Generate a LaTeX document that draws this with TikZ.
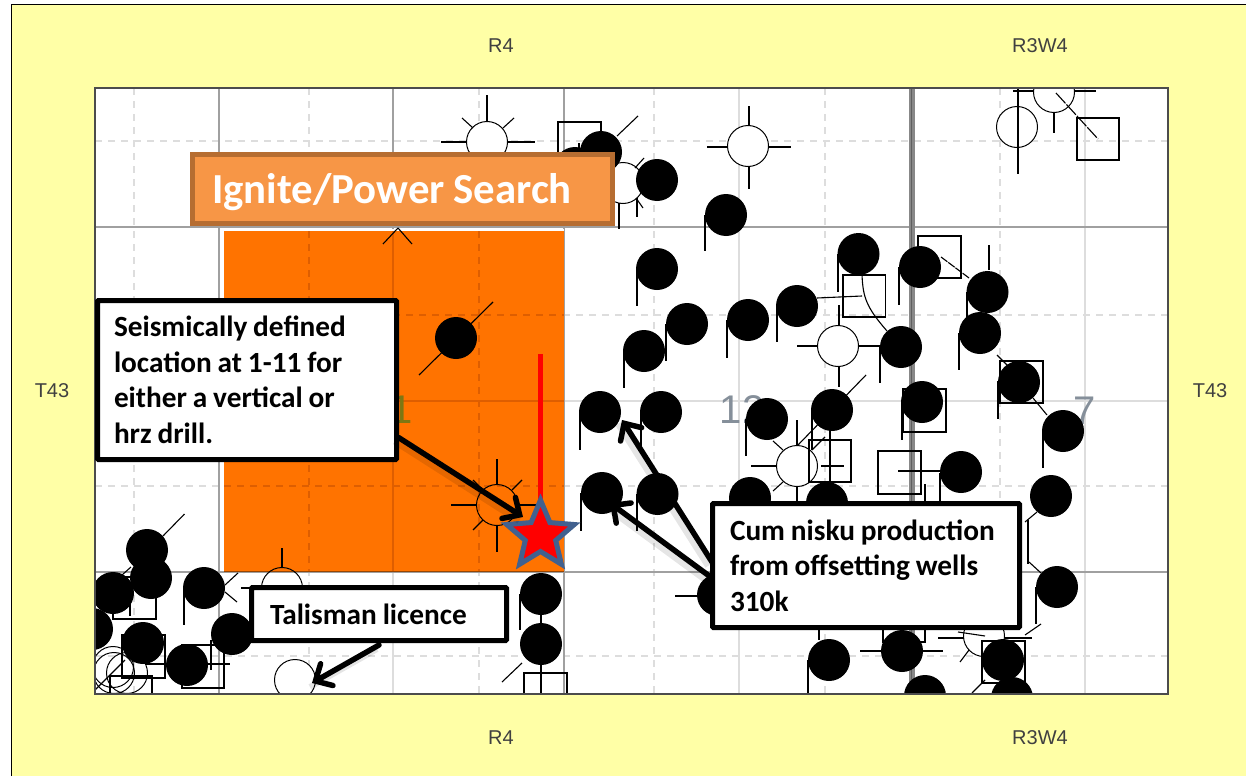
\documentclass[tikz,border=0pt]{standalone}
\usepackage{fontspec}
\setmainfont{Carlito}
\newfontfamily\maplabel{Liberation Sans}
\usetikzlibrary{arrows.meta,calc}
\definecolor{paper}{HTML}{FFFFA6}
\definecolor{lease}{HTML}{FF7300}
\definecolor{leasegrid}{HTML}{DE5E00}
\definecolor{gridA}{HTML}{A0A0A0}
\definecolor{gridB}{HTML}{DDDDDD}
\definecolor{bannerfill}{HTML}{F79646}
\definecolor{bannerline}{HTML}{B66D31}
\definecolor{stargrey}{HTML}{41618F}
\definecolor{twpnum}{HTML}{858F9A}
\newcommand{\tsp}{\spaceskip=.2em\relax}
\tikzset{
  x=1pt,y=-1pt,
  grida/.style={draw=gridA,line width=1.4pt},
  gridb/.style={draw=gridB,line width=1.4pt},
  griddash/.style={draw=gridB,line width=1.4pt,dash pattern=on 7pt off 6pt},
  sym/.style={draw=black,line width=1.1pt},
  opencirc/.style={draw=black,line width=1pt,fill=white},
  wellsq/.style={draw=black,line width=1.2pt},
  maptext/.style={font=\maplabel\fontsize{20}{22}\selectfont,text=black!75,inner sep=0pt},
  twpn/.style={font=\maplabel\fontsize{40}{40}\selectfont,inner sep=0pt},
  callbox/.style={draw=black,line width=5pt,fill=white,rounded corners=1pt,outer sep=0pt,anchor=north west,align=left,inner ysep=0pt,font=\bfseries\fontsize{29.3}{35.5}\selectfont},
  callout/.style={draw=black,line width=5.5pt,line cap=round,-{Straight Barb[length=13pt,width=25pt,line cap=round]}},
  calloutshade/.style={draw=black,opacity=.1,line width=6pt}
}
\newcommand{\W}[2]{\fill[black] (#1,#2) circle[radius=21];}
\newcommand{\Tl}[3]{\draw[sym] (#1,#2) -- (#1,#3);}
\newcommand{\Ln}[4]{\draw[sym] (#1,#2) -- (#3,#4);}
\newcommand{\Sq}[4]{\draw[wellsq] (#1,#2) rectangle (#3,#4);}
\newcommand{\Oc}[2]{\draw[opencirc] (#1,#2) circle[radius=20.5];}
\begin{document}
\begin{tikzpicture}
\useasboundingbox (0,0) rectangle (1246,776);
\fill[white] (0,0) rectangle (1246,776);
\fill[paper] (11,4) rectangle (1246,776);
\draw[black,line width=1.4pt] (11.5,776) -- (11.5,4.5) -- (1246,4.5);
\fill[white] (95,88) rectangle (1168,694);
\begin{scope}
\clip (95,88) rectangle (1168,694);
% grid
\foreach \x in {134,309,479,654,825,1000}{\draw[griddash] (\x,88) -- (\x,694);}
\foreach \y in {141,315,486,656}{\draw[griddash] (95,\y) -- (1168,\y);}
\draw[gridb] (739,88) -- (739,694);
\draw[gridb] (1085,88) -- (1085,694);
\draw[gridb] (393,572) -- (393,694);
\draw[gridb] (564,401) -- (1168,401);
\draw[grida] (393,88) -- (393,230);
\draw[grida] (219,88) -- (219,694);
\draw[grida] (564,88) -- (564,694);
\draw[grida] (95,227) -- (1168,227);
\draw[grida] (95,572) -- (1168,572);
\draw[draw=gridA!85!black,line width=6pt] (912,88) -- (912,694);
\draw[draw=gridA!60!black,line width=1pt] (911,88) -- (911,694);
% lease block
\fill[white] (219.8,229) rectangle (564,232);
\fill[lease] (223.5,231) rectangle (564,571.5);
\draw[leasegrid,line width=1.2pt] (393,231) -- (393,571);
\draw[leasegrid,line width=1.2pt,dash pattern=on 7pt off 6pt] (309,231) -- (309,571);
\draw[leasegrid,line width=1.2pt,dash pattern=on 7pt off 6pt] (479,231) -- (479,571);
\draw[leasegrid,line width=1.2pt,dash pattern=on 7pt off 6pt] (224,315) -- (564,315);
\draw[leasegrid,line width=1.2pt,dash pattern=on 7pt off 6pt] (224,486) -- (564,486);
\draw[leasegrid,line width=1.2pt] (224,401) -- (564,401);
\draw[black!40!lease,line width=1pt] (224,571.5) -- (564,571.5);
% section numbers
\node[twpn,text=olive!85!black] (sec1) at (402,410) {1};
\node[twpn,text=twpnum] (sec12) at (742,410) {12};
\node[twpn,text=twpnum] (sec7) at (1085,411) {7};
% upper left symbols
\Oc{487}{142}
\Tl{487}{95}{122}\Ln{441}{142}{467}{142}\Ln{507}{142}{535}{142}
\Ln{462}{118}{473}{128}\Ln{514}{118}{503}{128}
\draw[sym] (558,160) -- (558,122) -- (601,122) -- (601,135);
\Ln{383}{244}{398}{228}\Ln{398}{228}{412}{244}
% upper centre cluster
\Oc{623}{183}
\Ln{635}{168}{644}{158}\Ln{636}{198}{643}{208}\Tl{619}{203}{229}\Tl{637}{198}{217}
\Ln{617}{136}{638}{116}
\Tl{579}{143}{150}
\W{601}{152}\W{575}{168}\W{657}{180}
\Oc{748}{146}
\Tl{749}{106}{126}\Tl{749}{167}{189}\Ln{707}{147}{728}{147}\Ln{769}{147}{791}{147}
\Tl{705}{215}{251}\W{726}{215}
\Tl{637}{269}{306}\W{657}{269}
\Tl{666}{324}{361}\W{687}{324}
\Tl{624}{351}{388}\W{644}{351}
\Tl{727}{320}{358}\W{748}{320}
\Tl{777}{306}{342}\W{797}{306}
\Oc{838}{346}
\Tl{839}{305}{326}\Tl{839}{366}{387}\Ln{797}{346}{817}{346}\Ln{859}{346}{881}{346}
\Sq{843}{274.5}{885.5}{317}
\draw[black,line width=2.4pt] (843,275) -- (885.5,275) (843,317) -- (885.5,317);
\Tl{838}{254}{292}\W{858.5}{254}
\draw[sym] (817,298) -- (862,296) (862,275) .. controls (863,297) and (866,307) .. (887,331);
\Tl{880}{347}{383}\W{901}{347}
\Sq{918}{236}{961}{278}
\Tl{899}{267}{305}\W{920}{267}
\draw[sym,dash pattern=on 8pt off 1pt] (941,257) -- (969,278);
\Tl{989}{245}{270}
\Tl{967}{292}{330}\W{987.5}{292}
\Tl{959}{333}{370}\W{980}{333}
\Ln{997}{355}{1007}{365}
\Sq{1000}{361}{1043}{403}
\Tl{998}{381}{419}\W{1019}{382}
\Ln{1033}{398}{1047}{415}
\Tl{1043}{431}{468}\W{1063}{431}
% top right
\Oc{1017}{127}
\Tl{1018}{88}{174}
\Oc{1054}{92}
\Ln{1013}{91}{1033}{91}\Ln{1075}{91}{1096}{91}\Tl{1054}{112}{133}
\Sq{1077}{118}{1119}{160}
\draw[sym,dash pattern=on 14pt off 1.5pt] (1056,93) -- (1098,139);
% middle rows
\Tl{580}{412}{450}\W{600}{412}
\Tl{641}{412}{450}\W{661}{412}
\Tl{581}{493}{531}\W{602}{493}
\Tl{637}{494}{531}\W{657.5}{494}
\Tl{746}{419}{456}\W{767}{419}
\Oc{797}{466}
\Ln{751}{466}{777}{466}\Tl{797}{420}{446}\Tl{797}{486}{505}
\Ln{773}{441}{783}{450}\Ln{773}{491}{783}{482}
\Ln{798}{445}{866}{375}
\Sq{809}{440}{851}{482}
\Tl{830}{430}{482}\Ln{821}{466}{844}{466}\Ln{812}{450}{825}{437}
\Tl{812}{410}{450}\W{832}{410}
\Tl{902}{402}{440}
\Sq{903}{389}{946}{432}
\W{922}{402}
\Sq{878}{451}{921}{494}
\Ln{898}{471}{961}{471}
\Tl{925}{484}{510}\Tl{940}{473}{510}
\W{961}{472}
\W{750}{498}\W{827}{503}
\Tl{1028}{520}{564}
\Ln{1037}{512}{1025}{522}
\W{1051}{496}
\Ln{1029}{562}{1041}{573}
\Tl{1036}{587}{624}\W{1057}{587}
\Ln{675}{596}{700}{596}\W{718}{595}
% bottom right
\Tl{819}{625}{640}\Tl{808}{660}{694}\W{829}{660}
\Sq{883}{620}{925}{642}
\Ln{860}{651}{881}{651}\Ln{922}{651}{943}{651}
\W{902}{651}
\W{925}{696}
\Oc{984}{636}
\Ln{938}{638}{964}{638}\Ln{958}{632}{985}{636}\Ln{960}{662}{969}{650}
\Ln{1005}{638}{1032}{638}\Ln{1025}{635}{1041}{624}
\Sq{982}{641}{1025}{683}
\Ln{972}{693}{985}{680}
\W{1003}{660}\W{1012}{698}
% lease wells
\Ln{419}{375}{493}{302}\W{456}{338}
\draw[opencirc,fill=none] (497,505) circle[radius=20.5];
\Tl{497}{459}{485}\Tl{497}{525}{552}\Ln{451}{505}{477}{505}\Ln{518}{505}{536}{505}
\Ln{473}{530}{483}{520}\Ln{522}{480}{512}{490}\Ln{473}{480}{483}{490}
\Tl{282}{548}{568}
\draw[opencirc,fill=none] (282,588) circle[radius=20.5];
\Ln{241}{588}{262}{588}
\Tl{520}{594}{630}\Tl{541}{594}{694}
\Sq{524}{673}{567}{700}
\Ln{522}{663}{502}{682}
\W{541}{594}\W{541}{644}
\Oc{295}{680}
% lower left cluster
\Sq{113}{577}{156}{619}
\Sq{122}{635}{165}{678}
\Sq{182}{645}{224}{688}
\draw[opencirc,fill=none] (113,667) circle[radius=20.5];
\draw[opencirc,fill=none] (114,673) circle[radius=20.5];
\draw[opencirc,fill=none] (127,673) circle[radius=20.5];
\Sq{110}{676}{152}{720}
\Ln{95}{690}{125}{660}
\Ln{145}{664}{230}{664}\Tl{211}{640}{670}
\Ln{163}{536}{184.5}{514}
\Tl{184}{588}{625}\Ln{225}{585}{238}{573}\Ln{225}{592}{237}{602}
\Ln{122}{575}{131}{567}\Tl{130}{592}{616}
\W{147}{550}\W{151}{578}\W{113}{593}\W{204}{588}
\W{92}{629}\W{143}{643}\W{187}{665}\W{232}{634}
\end{scope}
\draw[black!70,line width=1.5pt] (95,88) rectangle (1168,694);
% outer labels
\node[maptext] (r4top) at (501,46) {R4};
\node[maptext] (rwtop) at (1040,46) {R3W4};
\node[maptext] (t43l) at (52,391) {T43};
\node[maptext] (t43r) at (1210,391) {T43};
\node[maptext] (r4bot) at (501,738) {R4};
\node[maptext] (rwbot) at (1040,738) {R3W4};
% banner
\node[draw=bannerline,line width=5pt,fill=bannerfill,outer sep=0pt,anchor=north west,minimum height=69pt,minimum width=420pt,inner sep=0pt] (banner) at (192.5,154.5) {};
\node[anchor=base west,inner sep=0pt,text=white,font=\bfseries\fontsize{42.8}{45}\selectfont] (bannertext) at (212,203) {\tsp Ignite/Power Search};
% red marker
\coordinate (mtop) at (540.5,354);
\coordinate (mstar) at (540.5,535.5);
\draw[red,line width=4.2pt] (mtop) -- (mstar);
\draw[stargrey,line width=5pt,fill=red,line join=miter,miter limit=5]
  ($(mstar)+(90:-35.5)$)
  \foreach \k in {1,...,9}{ -- ($(mstar)+({90+\k*36}:{ifthenelse(mod(\k,2)==0,-35.5,-16)})$) } -- cycle;
% call-outs
\node[callbox,inner xsep=16.5pt,text width=266pt,minimum height=159pt] (seis) at (97.5,300.5) {\tsp\mbox{Seismically defined}\\\mbox{location at 1-11 for}\\\mbox{either a vertical or}\\hrz drill.};
\node[callbox,inner xsep=18.5pt,text width=218pt,minimum height=53pt] (tal) at (251.5,587.5) {\tsp\mbox{Talisman licence}};
\node[callbox,inner xsep=17.5pt,text width=272pt,minimum height=124pt] (cum) at (712.5,503.5) {\tsp\mbox{Cum nisku production}\\\mbox{from offsetting wells}\\310k};
\coordinate (seisS) at ($(seis.south east)+(2,-22)$);
\coordinate (seisE) at (523,517);
\coordinate (talS) at (379,645);
\coordinate (talE) at (312,683);
\coordinate (cumS1) at (712,578);
\coordinate (cumE1) at (610,503);
\coordinate (cumS2) at (712,562);
\coordinate (cumE2) at (622,420);
\draw[calloutshade] ($(seisS)+(-4,4)$) -- ($(seisE)+(-4,4)$);
\draw[calloutshade] ($(talS)+(-2,4)$) -- ($(talE)+(-2,4)$);
\draw[calloutshade] ($(cumS1)+(-4,4)$) -- ($(cumE1)+(-4,4)$);
\draw[calloutshade] ($(cumS2)+(-4,4)$) -- ($(cumE2)+(-4,4)$);
\draw[callout] (seisS) -- (seisE);
\draw[callout] (talS) -- (talE);
\draw[callout] (cumS1) -- (cumE1);
\draw[callout] (cumS2) -- (cumE2);
\end{tikzpicture}
\end{document}
